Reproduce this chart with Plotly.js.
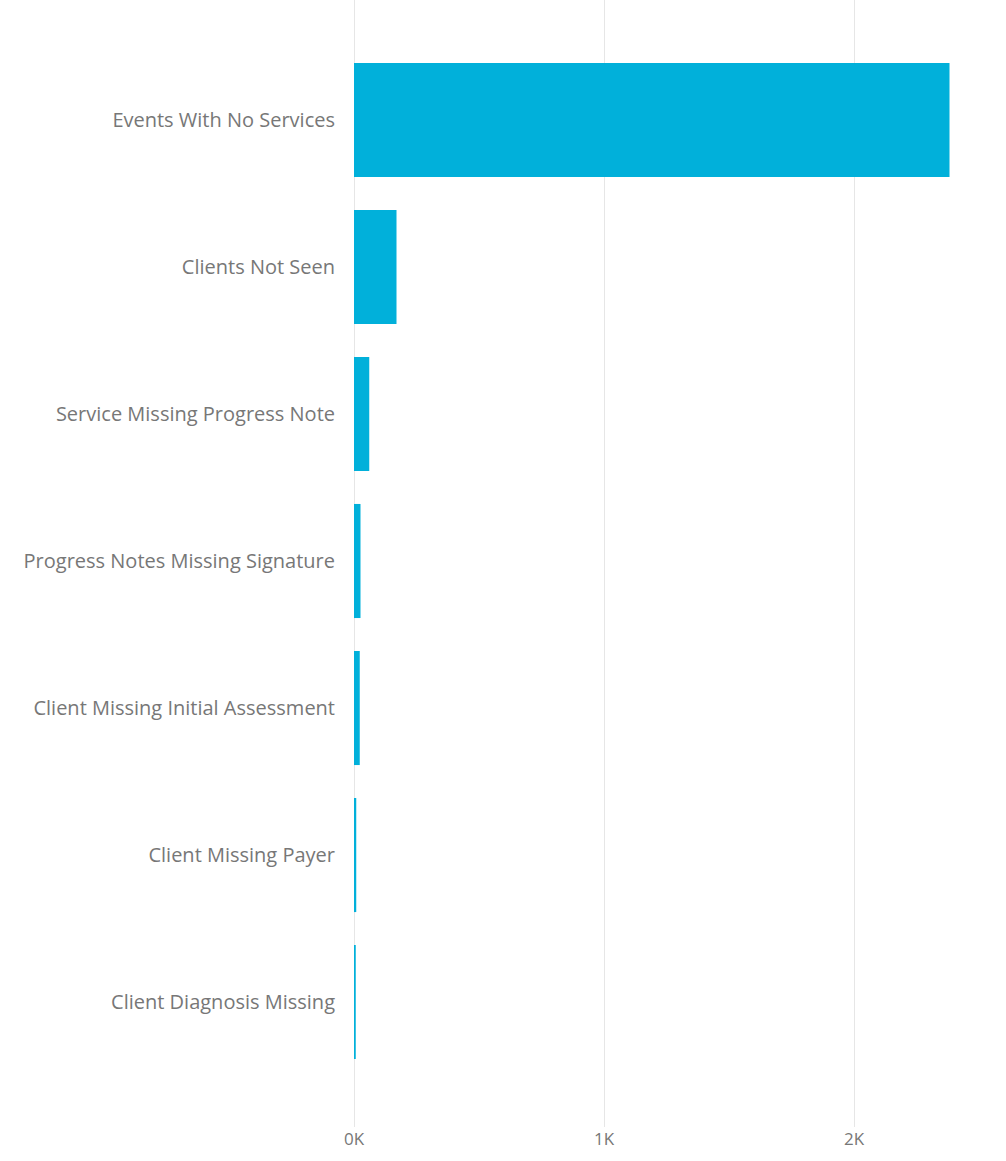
<!DOCTYPE html>
<html>
<head>
<meta charset="utf-8">
<script src="https://cdn.plot.ly/plotly-3.0.1.min.js"></script>
<style>html,body{margin:0;padding:0;background:#fff;}#chart{width:1006px;height:1161px;}</style>
</head>
<body>
<div id="chart"></div>
<script>
const categories = [
  "Events With No Services",
  "Clients Not Seen",
  "Service Missing Progress Note",
  "Progress Notes Missing Signature",
  "Client Missing Initial Assessment",
  "Client Missing Payer",
  "Client Diagnosis Missing"
];
const counts = [2382, 170, 61, 26, 23, 9, 7];
const xTickVals = [0, 1000, 2000];
const xTickText = ["0K", "1K", "2K"];

const trace = {
  type: "bar",
  orientation: "h",
  y: categories,
  x: counts,
  marker: {color: "#01B0DA"},
  hoverinfo: "x+y"
};

const layout = {
  width: 1006,
  height: 1161,
  margin: {l: 354, r: 16, t: 0, b: 34},
  paper_bgcolor: "#fff",
  plot_bgcolor: "#fff",
  bargap: 0.224,
  showlegend: false,
  font: {family: "Open Sans, Noto Sans, sans-serif", color: "#777"},
  xaxis: {
    range: [0, 2544],
    tickvals: xTickVals,
    ticktext: xTickText,
    showgrid: true,
    gridcolor: "#e6e6e6",
    gridwidth: 1,
    zeroline: true,
    zerolinecolor: "#e6e6e6",
    zerolinewidth: 1,
    showline: false,
    ticks: "",
    tickfont: {size: 17, color: "#777"}
  },
  yaxis: {
    type: "category",
    range: [6.85, -0.816],
    showgrid: false,
    zeroline: false,
    showline: false,
    ticks: "outside",
    ticklen: 14,
    tickcolor: "rgba(0,0,0,0)",
    tickfont: {size: 20, color: "#777"}
  }
};

Plotly.newPlot("chart", [trace], layout, {displayModeBar: false, staticPlot: true});
</script>
</body>
</html>
